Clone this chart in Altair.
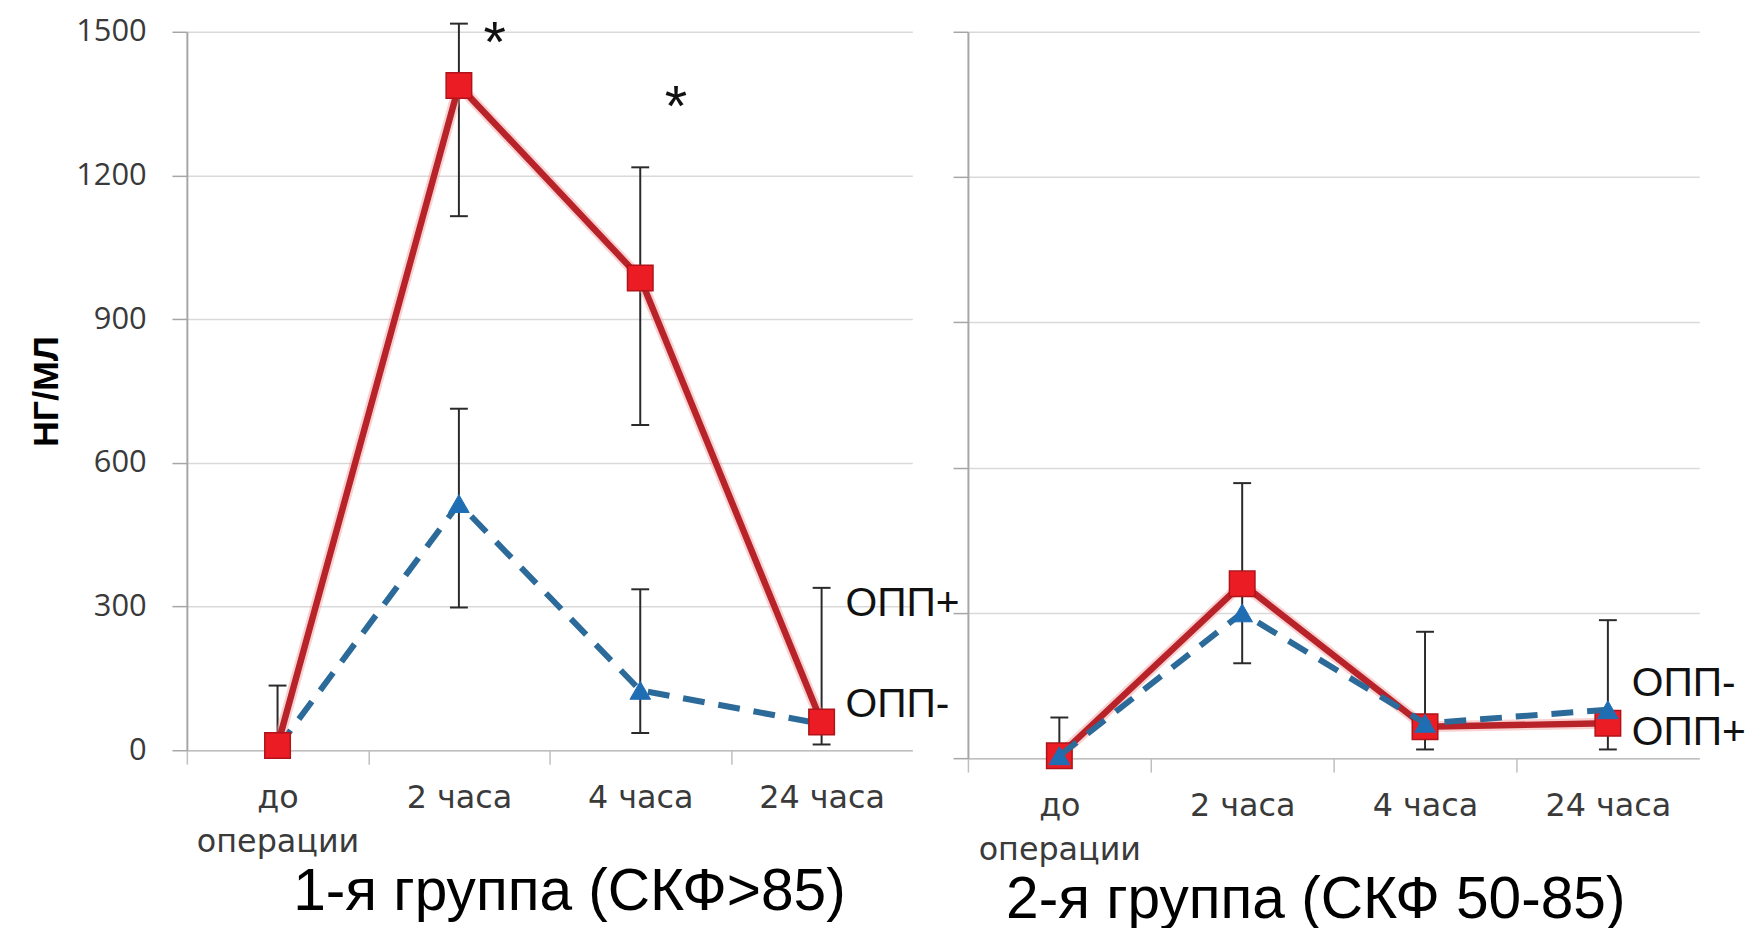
import altair as alt
import pandas as pd

# ---------------- data ----------------
categories = ["до операции", "2 часа", "4 часа", "24 часа"]

# 1-я группа (СКФ>85)
g1_opp_plus = [10, 1388, 986, 59]
g1_opp_minus = [5, 515, 125, 55]
g1_err_cat = ["до операции", "2 часа", "2 часа", "4 часа", "4 часа", "24 часа"]
g1_err_low = [0, 1115, 298, 679, 36, 12]
g1_err_high = [135, 1517, 713, 1217, 336, 339]

# 2-я группа (СКФ 50-85)
g2_opp_plus = [5, 360, 65, 72]
g2_opp_minus = [5, 300, 72, 100]
g2_err_cat = ["до операции", "2 часа", "4 часа", "24 часа"]
g2_err_low = [5, 196, 18, 18]
g2_err_high = [84, 568, 261, 285]

series_labels = ["ОПП+", "ОПП-"]
g1_label_y = [306, 95]
g2_label_y = [51, 154]

star_cat = ["2 часа", "4 часа"]
star_y = [1491, 1358]
star_text = ["*", "*"]

y_ticks = [0, 300, 600, 900, 1200, 1500]
titles = ["1-я группа (СКФ>85)", "2-я группа (СКФ 50-85)"]
y_title = "НГ/МЛ"

RED_LINE = "#B8232A"
RED_FILL = "#EC1C24"
BLUE_LINE = "#2C6A9A"
BLUE_FILL = "#1F6EB4"
GRID = "#D9D9D9"
AXIS = "#A6A6A6"


def panel(plus, minus, err_cat, err_low, err_high, label_y, title, width, height,
          first, red_on_top, with_stars, title_dx):
    df = pd.DataFrame({"cat": categories, "plus": plus, "minus": minus})
    err = pd.DataFrame({"cat": err_cat, "low": err_low, "high": err_high})
    lab = pd.DataFrame({"cat": ["24 часа"] * 2, "ly": label_y, "lbl": series_labels})

    half_band = width / len(categories) / 2.0
    x_axis = alt.Axis(
        title=None, grid=False,
        labelExpr="indexof(datum.value, 'до ') == 0 ? split(datum.value, ' ') : datum.value",
        labelLineHeight=44, labelLimit=400,
        labelFont="DejaVu Sans", labelFontSize=32, labelColor="#3A3A3A",
        labelPadding=19, labelAngle=0,
        tickOffset=-half_band, labelOffset=half_band,
        tickSize=14, tickColor="#BFBFBF", tickWidth=1.5,
        domainColor="#BFBFBF", domainWidth=1.5,
    )
    x = alt.X("cat:N", sort=categories,
              scale=alt.Scale(type="band", domain=categories, paddingInner=0, paddingOuter=0),
              axis=x_axis)

    if first:
        y_axis = alt.Axis(
            values=y_ticks, format="d", title=y_title, labelFont="Open Sans", labelFontSize=31,
            labelColor="#3A3A3A", labelPadding=26, tickSize=15, tickColor=AXIS,
            tickWidth=1.5, domainColor=AXIS, domainWidth=2, grid=True, gridColor=GRID,
            gridWidth=1.5, titleFont="Liberation Sans", titleFontSize=36,
            titleFontWeight="bold", titleColor="#000000", titlePadding=10,
        )
    else:
        y_axis = alt.Axis(
            values=y_ticks, title=None, labels=False, tickSize=15, tickColor=AXIS,
            tickWidth=1.5, domainColor=AXIS, domainWidth=2, grid=True, gridColor=GRID,
            gridWidth=1.5,
        )
    yscale = alt.Scale(domain=[0, 1500], nice=False, zero=True)

    base = alt.Chart(df)
    red_halo = base.mark_line(color="#F29A9A", strokeWidth=11, opacity=0.45).encode(
        x=x, y=alt.Y("plus:Q", scale=yscale, axis=y_axis))
    red_line = base.mark_line(color=RED_LINE, strokeWidth=6.5).encode(
        x=x, y=alt.Y("plus:Q", scale=yscale, axis=y_axis))
    red_pts = base.mark_point(shape="square", filled=True, size=660, fill=RED_FILL,
                              stroke="#B0141A", strokeWidth=1.5, opacity=1).encode(
        x=x, y=alt.Y("plus:Q", scale=yscale, axis=y_axis))
    blue_line = base.mark_line(color=BLUE_LINE, strokeWidth=6, strokeDash=[22, 14]).encode(
        x=x, y=alt.Y("minus:Q", scale=yscale, axis=y_axis))
    blue_pts = base.mark_point(shape="triangle-up", filled=True, size=430, fill=BLUE_FILL,
                               stroke=BLUE_FILL, strokeWidth=1, opacity=1).encode(
        x=x, y=alt.Y("minus:Q", scale=yscale, axis=y_axis))

    ebase = alt.Chart(err)
    e_rule = ebase.mark_rule(color="#2A2A2A", strokeWidth=2).encode(
        x=x, y=alt.Y("low:Q", scale=yscale, axis=y_axis), y2="high:Q")
    e_low = ebase.mark_tick(orient="horizontal", size=18, thickness=2, color="#2A2A2A",
                            opacity=1).encode(x=x, y=alt.Y("low:Q", scale=yscale, axis=y_axis))
    e_high = ebase.mark_tick(orient="horizontal", size=18, thickness=2, color="#2A2A2A",
                             opacity=1).encode(x=x, y=alt.Y("high:Q", scale=yscale, axis=y_axis))

    labels = alt.Chart(lab).mark_text(align="left", baseline="middle", dx=24,
                                      font="Liberation Sans", fontSize=41,
                                      color="#111111").encode(
        x=x, y=alt.Y("ly:Q", scale=yscale, axis=y_axis), text="lbl:N")

    red = [red_halo, red_line, red_pts]
    blue = [blue_line, blue_pts]
    series = (blue + red) if red_on_top else (red + blue)
    layers = [e_rule, e_low, e_high] + series + [labels]

    if with_stars:
        st = pd.DataFrame({"cat": star_cat, "sy": star_y, "t": star_text})
        stars = alt.Chart(st).mark_text(align="center", baseline="middle", dx=36, dy=9,
                                        font="Liberation Sans", fontSize=58,
                                        color="#111111").encode(
            x=x, y=alt.Y("sy:Q", scale=yscale, axis=y_axis), text="t:N")
        layers.append(stars)

    return alt.layer(*layers).properties(
        width=width, height=height,
        title=alt.TitleParams(text=title, orient="bottom", anchor="middle", dx=title_dx,
                              offset=6, font="Liberation Sans", fontSize=59,
                              fontWeight="normal", color="#000000"),
    )


left = panel(g1_opp_plus, g1_opp_minus, g1_err_cat, g1_err_low, g1_err_high, g1_label_y,
             titles[0], 730, 723, True, True, True, 20)
right = panel(g2_opp_plus, g2_opp_minus, g2_err_cat, g2_err_low, g2_err_high, g2_label_y,
              titles[1], 736, 731, False, False, False, -18)

chart = alt.hconcat(left, right, spacing=56, bounds="flush").resolve_scale(
    x="independent", y="independent"
).properties(
    padding={"left": 21, "top": 5, "right": 0, "bottom": 0},
    background="white",
).configure_view(stroke=None)

chart.save("out.html", embed_options={"renderer": "svg", "actions": False})
